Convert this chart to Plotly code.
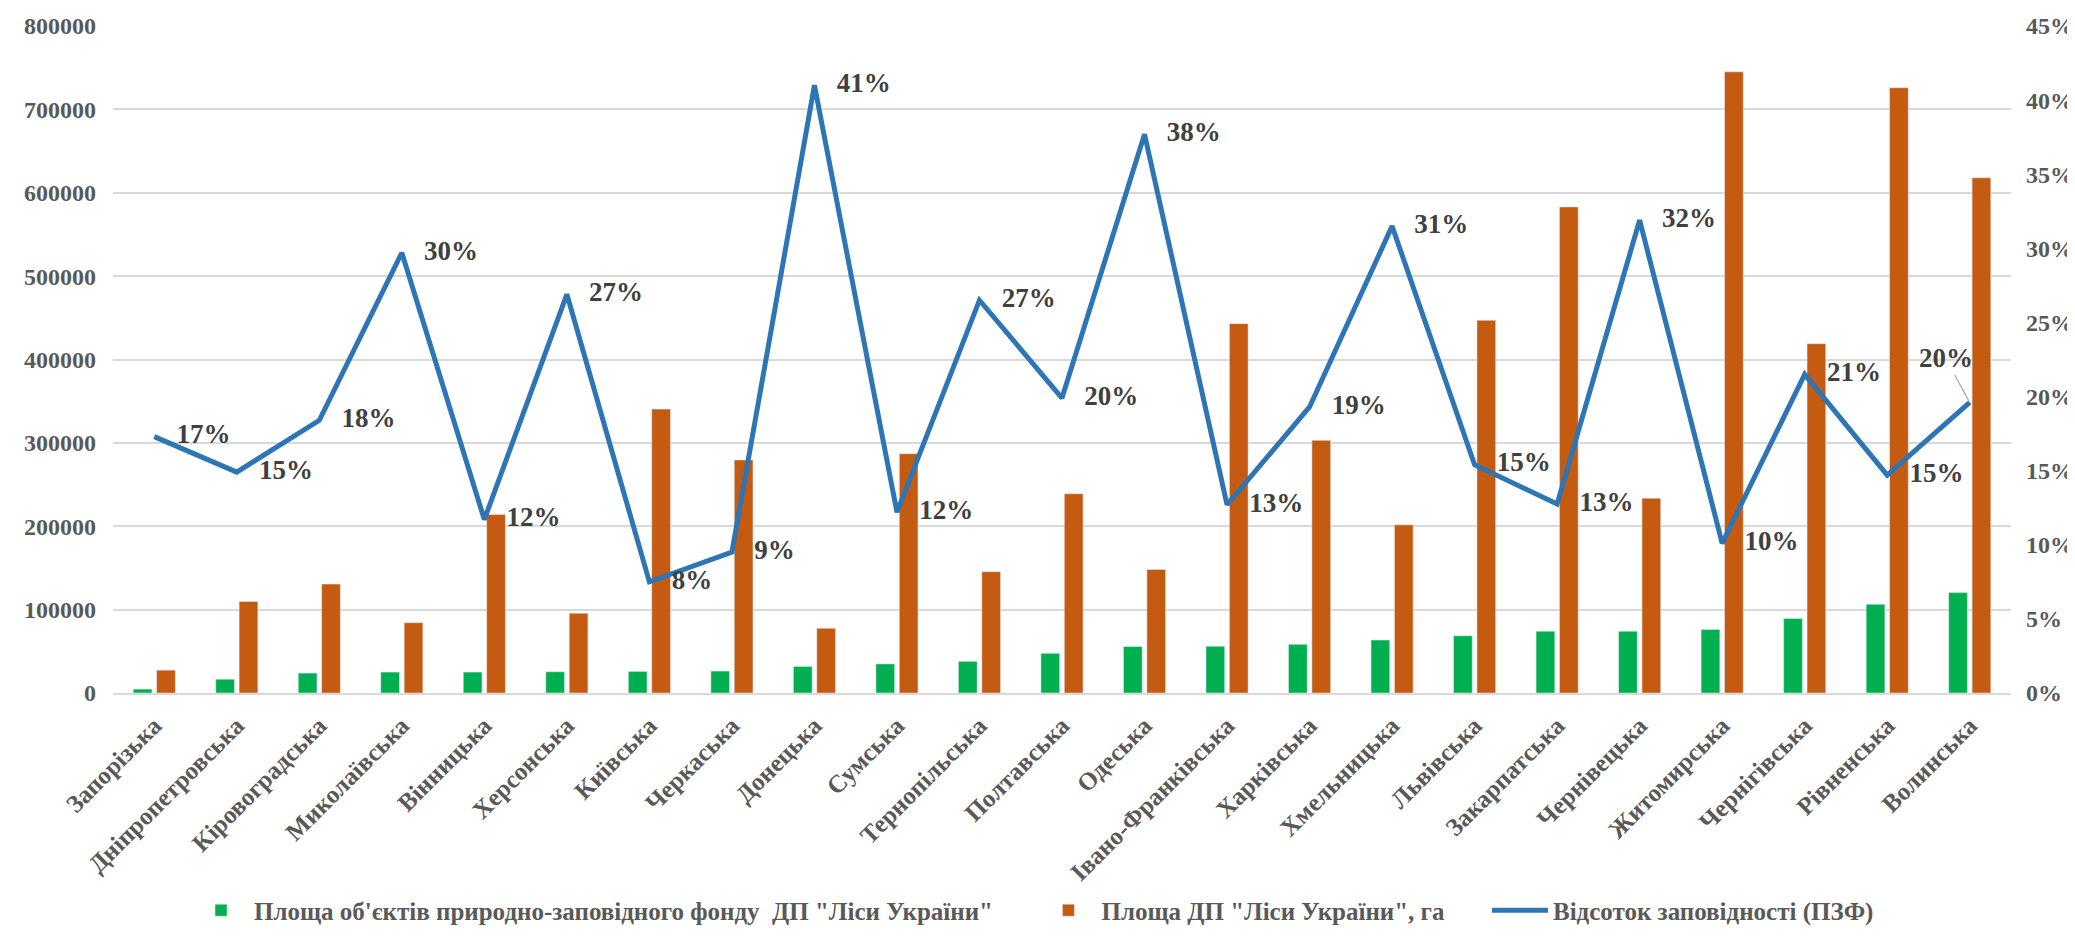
import plotly.graph_objects as go

categories = ["Запорізька", "Дніпропетровська", "Кіровоградська", "Миколаївська", "Вінницька",
              "Херсонська", "Київська", "Черкаська", "Донецька", "Сумська", "Тернопільська",
              "Полтавська", "Одеська", "Івано-Франківська", "Харківська", "Хмельницька",
              "Львівська", "Закарпатська", "Чернівецька", "Житомирська", "Чернігівська",
              "Рівненська", "Волинська"]

pzf_area = [4700, 16500, 23900, 25100, 25100, 25500, 25900, 26300, 31800, 34900, 38000, 47600,
            55700, 56100, 58400, 63500, 68600, 74100, 74100, 76100, 89400, 106300, 120400]

total_area = [27400, 109800, 130600, 84300, 214000, 95700, 340500, 279500, 77600, 287000, 145500,
              239000, 148200, 443000, 303000, 201700, 447000, 583000, 233600, 745000, 419000,
              726000, 618000]

pct = [0.173, 0.149, 0.184, 0.297, 0.117, 0.269, 0.075, 0.095, 0.410, 0.122, 0.265, 0.199,
       0.377, 0.127, 0.193, 0.315, 0.154, 0.1275, 0.319, 0.101, 0.215, 0.147, 0.196]

pct_labels = ["17%", "15%", "18%", "30%", "12%", "27%", "8%", "9%", "41%", "12%", "27%", "20%",
              "38%", "13%", "19%", "31%", "15%", "13%", "32%", "10%", "21%", "15%", "20%"]

FONT = "Liberation Serif"
TICK_COLOR = "#595959"
LABEL_COLOR = "#404040"
PAD = "&nbsp;" * 6

fig = go.Figure()

fig.add_trace(go.Bar(
    x=categories, y=pzf_area,
    name="<b>Площа об'єктів природно-заповідного фонду&nbsp; ДП \"Ліси України\"</b>" + PAD,
    marker=dict(color="#00B050"),
))
fig.add_trace(go.Bar(
    x=categories, y=total_area,
    name="<b>Площа ДП \"Ліси України\", га</b>" + PAD,
    marker=dict(color="#C55A11"),
))
fig.add_trace(go.Scatter(
    x=categories, y=pct, yaxis="y2", mode="lines",
    name="<b>Відсоток заповідності (ПЗФ)</b>",
    line=dict(color="#2E75B6", width=5),
))
# data labels (all but last placed to the right of the points)
fig.add_trace(go.Scatter(
    x=categories[:-1], y=pct[:-1], yaxis="y2", mode="markers+text",
    text=[f"<b>{t}</b>" for t in pct_labels[:-1]],
    textposition="middle right",
    textfont=dict(family=FONT, size=27, color=LABEL_COLOR),
    marker=dict(size=34, color="rgba(0,0,0,0)"),
    showlegend=False, hoverinfo="skip", cliponaxis=False,
))
fig.add_annotation(
    x=categories[-1], y=pct[-1], yref="y2",
    text=f"<b>{pct_labels[-1]}</b>",
    showarrow=True, arrowhead=0, arrowwidth=1.2, arrowcolor="#A6A6A6",
    ax=-24, ay=-44, standoff=2,
    font=dict(family=FONT, size=27, color=LABEL_COLOR),
)

fig.update_layout(
    width=2075, height=938,
    margin=dict(l=105, r=72, t=18, b=239),
    paper_bgcolor="white", plot_bgcolor="white",
    barmode="group", bargap=0.433, bargroupgap=0.2,
    font=dict(family=FONT, color=TICK_COLOR),
    xaxis=dict(
        range=[-0.5, len(categories) - 0.5],
        tickangle=-45, tickfont=dict(family=FONT, size=25, color=TICK_COLOR),
        showline=True, linecolor="#D9D9D9", linewidth=2,
        showgrid=False, ticks="", automargin=False,
        tickprefix="<b>", ticksuffix="</b>",
        ticklabelstandoff=6,
    ),
    yaxis=dict(
        range=[0, 800000], dtick=100000, tickformat="d",
        showgrid=True, gridcolor="#D9D9D9", gridwidth=2,
        zeroline=False, showline=False,
        tickfont=dict(family=FONT, size=24, color=TICK_COLOR),
        tickprefix="<b>", ticksuffix="</b>",
        ticklabelstandoff=16, automargin=False,
    ),
    yaxis2=dict(
        range=[0, 0.45], dtick=0.05, tickformat=".0%",
        overlaying="y", side="right", showgrid=False, zeroline=False,
        tickfont=dict(family=FONT, size=24, color=TICK_COLOR),
        tickprefix="<b>", ticksuffix="</b>",
        ticklabelstandoff=14, automargin=False,
    ),
    legend=dict(
        orientation="h", x=0.485, xanchor="center", y=-0.326, yanchor="middle",
        font=dict(family=FONT, size=25, color=TICK_COLOR),
        itemwidth=56, tracegroupgap=0,
    ),
)

fig.write_html("out.html")
